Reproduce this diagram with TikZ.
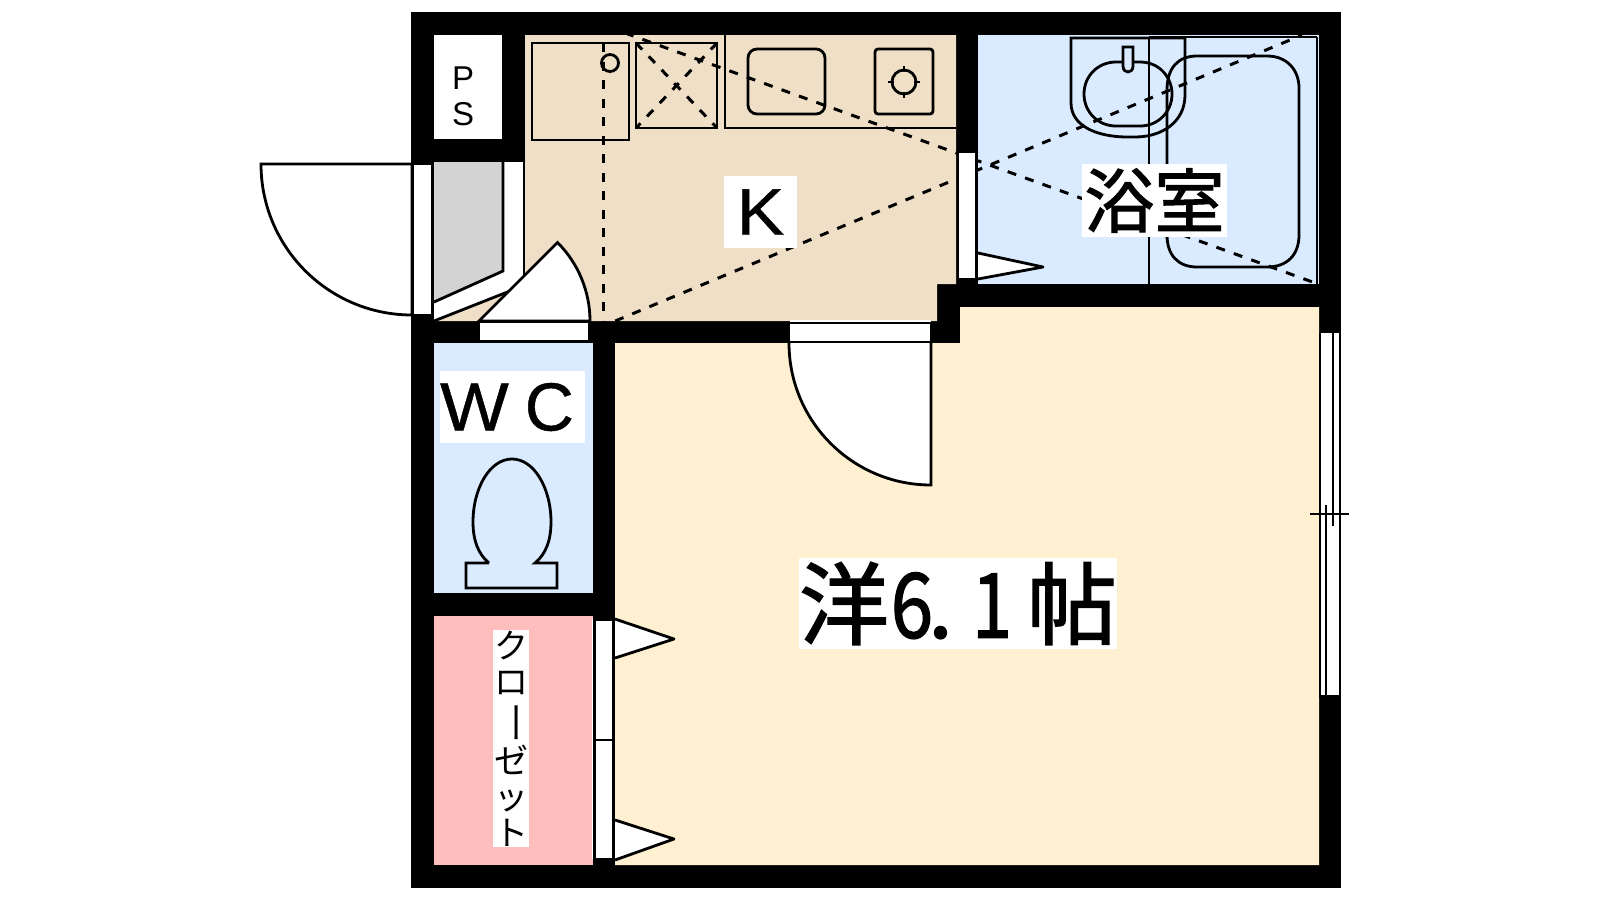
\documentclass[tikz,border=0pt]{standalone}
\usepackage{fontspec}
\usepackage{graphicx}
\setmainfont{Liberation Sans}
\newfontfamily\cjk{Noto Sans CJK JP}
\newfontfamily\cjkb[FakeBold=1.5]{Noto Sans CJK JP}
\newfontfamily\latb[FakeBold=0.6]{Liberation Sans}
\definecolor{wood}{HTML}{EFDFC6}
\definecolor{water}{HTML}{DAEBFF}
\definecolor{room}{HTML}{FEF0D0}
\definecolor{closet}{HTML}{FFBEBE}
\definecolor{entry}{HTML}{D3D3D3}
\tikzset{
  ln/.style={draw=black,line width=2.8pt,line join=miter},
  thin ln/.style={draw=black,line width=1.8pt},
  dsh/.style={draw=black,line width=3pt,dash pattern=on 9pt off 9.5pt},
  wht/.style={ln,fill=white},
  wedge/.style={draw=black,line width=2.8pt,line join=round,fill=white},
}
\begin{document}
\begin{tikzpicture}[x=1pt,y=-1pt]
\useasboundingbox (0,0) rectangle (1600,900);
% walls
\fill[black] (411,12) rectangle (1341,888);
% floors
\fill[white] (434,35) rectangle (502,139);
\fill[wood] (525,35) -- (956,35) -- (956,284) -- (937,284) -- (937,321) -- (434,321) -- (434,162) -- (525,162) -- cycle;
\fill[water] (978,35) rectangle (1319,284);
\fill[room] (960,307) -- (1319,307) -- (1319,865) -- (615,865) -- (615,343) -- (960,343) -- cycle;
\fill[water] (434,343) rectangle (593,593);
\fill[closet] (434,616) rectangle (593,865);
% entry
\fill[white] (434,162) -- (524,162) -- (524,278) -- (508,292) -- (434,321) -- cycle;
\fill[entry] (434,162) -- (503,162) -- (503,271) -- (434,302) -- cycle;
\draw[ln] (503,162) -- (503,271) -- (434,302);
\draw[ln] (434,321) -- (510,291);
\draw[ln] (524,162) -- (524,279);
% kitchen fixtures
\draw[ln] (532,43) rectangle (629,140);
\draw[ln] (610,63) circle (8.5);
\draw[ln] (636,43) rectangle (717,128);
\draw[ln] (725,35) -- (725,128) -- (956,128);
\draw[ln,rounded corners=9pt] (748,49) rectangle (825,114);
\draw[ln,rounded corners=3pt] (875,49) rectangle (933,114);
\draw[ln] (904,82) circle (12);
\draw[thin ln] (904,66) -- (904,72) (904,92) -- (904,98) (888,82) -- (894,82) (914,82) -- (920,82);
% bath fixtures
\draw[ln] (1071,38) -- (1185,38) -- (1185,95) .. controls (1185,122) and (1162,137) .. (1135,137) -- (1128,137) .. controls (1095,137) and (1071,125) .. (1071,103) -- cycle;
\draw[ln] (1116,62) -- (1140,62) .. controls (1160,62) and (1172,78) .. (1172,94) .. controls (1172,112) and (1158,126) .. (1140,126) -- (1116,126) .. controls (1098,126) and (1084,112) .. (1084,94) .. controls (1084,76) and (1098,62) .. (1116,62) -- cycle;
\draw[ln,fill=water] (1123,47) -- (1133,47) -- (1133,66) .. controls (1133,74) and (1123,74) .. (1123,66) -- cycle;
\draw[ln] (1167,235) -- (1167,90) .. controls (1167,68) and (1178,56) .. (1197,56) -- (1267,56) .. controls (1287,56) and (1299,70) .. (1299,88) -- (1299,235) .. controls (1299,255) and (1287,267) .. (1267,267) -- (1197,267) .. controls (1178,267) and (1167,255) .. (1167,235) -- cycle;
\draw[ln] (1149,284) -- (1149,37);
\draw[ln] (1149,37) -- (1317,37);
\draw[thin ln] (1317,37) -- (1317,284);
% dashed ceiling lines
\draw[dsh] (625,33) -- (1318,284);
\draw[dsh] (615.2,321) -- (1302,35);
\draw[dsh] (603,43) -- (603,321);
\draw[dsh] (636,43) -- (717,128);
\draw[dsh] (717,43) -- (636,128);
% toilet
\draw[ln] (489,563) -- (466,563) -- (466,588) -- (557,588) -- (557,563) -- (535,563) .. controls (546,554) and (551,540) .. (551,522) .. controls (551,488) and (534,459) .. (512,459) .. controls (490,459) and (473,488) .. (473,522) .. controls (473,540) and (478,554) .. (489,563);
% entry door
\draw[wht] (412,164) -- (261,164) .. controls (261,247.4) and (328.6,315) .. (412,315) -- cycle;
\fill[white] (413,165) rectangle (433,314);
\draw[ln] (413,164) -- (413,314) (432,164) -- (432,314);
% kitchen door
\draw[wht] (479,321) -- (557.5,242.5) .. controls (578.3,263.3) and (590,291.6) .. (590,321) -- cycle;
\draw[wht] (479,322) rectangle (589,341.5);
% main door
\draw[wht] (789,343) .. controls (789,421.4) and (852.6,485) .. (931,485) -- (931,343);
\fill[white] (790,320) rectangle (931,322);
\draw[wht] (789,323) rectangle (931,342);
% bath door
\draw[wedge] (978,253) -- (1043,267) -- (978,279);
\draw[wht] (958,152) rectangle (976.5,279);
% closet doors
\fill[white] (591.5,619) rectangle (594,859);
\draw[wht] (594.5,620) rectangle (613,740);
\draw[wht] (594.5,740) rectangle (613,859);
\draw[wedge] (615,619) -- (674,639) -- (615,658);
\draw[wedge] (615,820) -- (674,839) -- (615,860);
% window
\fill[white] (1319,333) rectangle (1341,697);
\draw[ln] (1320,333) -- (1320,697) (1340,333) -- (1340,697) (1319,696.5) -- (1341,696.5);
\draw[ln] (1333,333) -- (1333,526);
\draw[ln] (1326,505) -- (1326,697);
\draw[ln] (1310,514) -- (1349,514);
% labels
\node[fill=white,inner sep=0pt,minimum width=73pt,minimum height=72pt] (k) at (760.5,212) {\fontsize{66}{66}\latb\scalebox{1.08}[1]{K}};
\node[fill=white,inner sep=0pt,minimum width=145pt,minimum height=73pt] (bath) at (1154.5,200.5) {\fontsize{70}{70}\cjkb 浴室};
\node[fill=white,inner sep=0pt,minimum width=145pt,minimum height=72pt] (wc) at (512.5,407) {\fontsize{68}{68}\latb\scalebox{1.07}[1]{W}\hspace{16pt}C\kern11pt\null};
\node[inner sep=0pt,align=center,font=\fontsize{33}{36}\selectfont] (ps) at (463,96) {P\\S};
\node[fill=white,inner sep=0pt,minimum width=318pt,minimum height=91pt] (main) at (958,603.5) {\fontsize{90}{90}\cjkb 洋\makebox[46pt]{\scalebox{.85}[1]{6}}\makebox[46pt][l]{\hspace{-7pt}.}\makebox[46pt]{\hspace{-24pt}\scalebox{.8}[1]{1}}帖};
\node[fill=white,inner sep=0pt,text width=36pt,minimum height=217pt,align=center,font=\fontsize{34}{36}\cjk] (cl) at (511,738.5) {ク\\ロ\\\rotatebox[origin=c]{-90}{\scalebox{1.25}[1]{ー}}\\ゼ\\ッ\\ト};
\end{tikzpicture}
\end{document}
